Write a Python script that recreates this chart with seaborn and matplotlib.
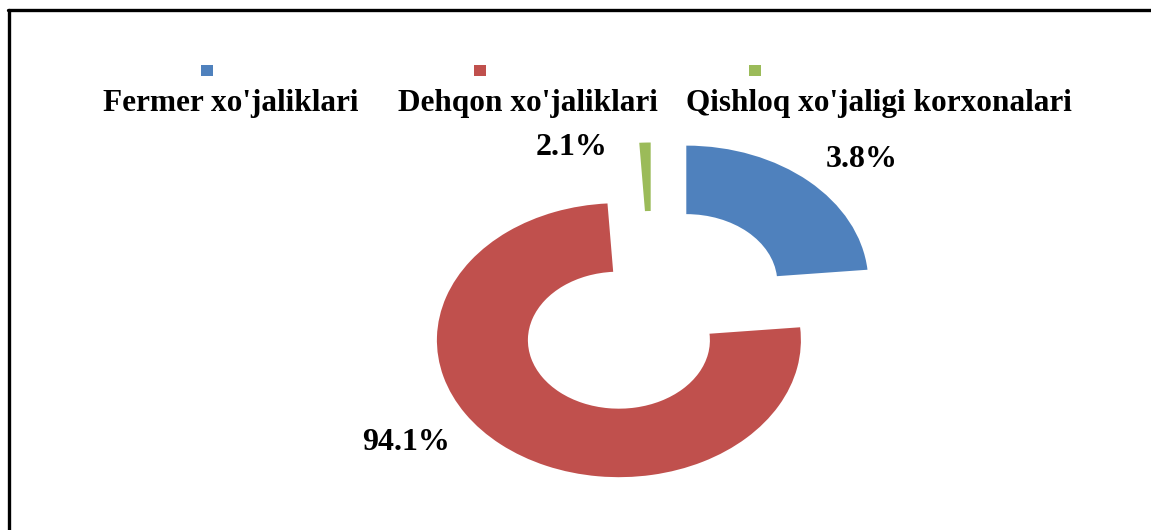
import matplotlib
matplotlib.use("Agg")
import matplotlib.pyplot as plt
import seaborn as sns
from matplotlib.lines import Line2D
from matplotlib.patches import Rectangle

# data (wedge shares as drawn in the picture, labels as printed)
categories = ["Fermer xo'jaliklari", "Dehqon xo'jaliklari", "Qishloq xo'jaligi korxonalari"]
drawn_shares = [23.5, 75.5, 1.0]
pct_labels = ["3.8%", "94.1%", "2.1%"]
colors = ["#4F81BD", "#C0504D", "#9BBB59"]

W, H = 1151, 530

sns.set_theme(style="white")
plt.rcParams['font.family'] = ['Liberation Serif', 'DejaVu Serif']
palette = sns.color_palette(colors)

fig = plt.figure(figsize=(W / 100, H / 100), dpi=100)
fig.patch.set_facecolor("white")
ax = fig.add_axes([0, 0, 1, 1])

ax.pie(
    drawn_shares, colors=palette, startangle=90, counterclock=False,
    explode=[0.28, 0.28, 0.23],
    wedgeprops=dict(width=0.5, linewidth=0),
)
# squashed look of the original: 182 px per unit horizontally, 137 vertically
cx, cy, sx, sy = 652, 311, 182, 137
ax.set_aspect("auto")
ax.set_xlim(-cx / sx, (W - cx) / sx)
ax.set_ylim(-(H - cy) / sy, cy / sy)
ax.axis("off")


def fx(x):
    return x / W


def fy(y):
    return 1 - y / H


# legend: small square keys above the names
key_x = [207, 480, 755]
name_x = [103, 398, 686]
for kx, nx, name, col in zip(key_x, name_x, categories, palette):
    fig.patches.append(Rectangle((fx(kx - 6), fy(76)), 12 / W, 11 / H,
                                 transform=fig.transFigure, color=col, lw=0))
    fig.text(fx(nx), fy(103), name, ha="left", va="center",
             fontsize=22.5, fontweight="bold", color="black")

# percentage labels
lab_pos = [(826, 160), (362, 442), (536, 148)]
for (lx, ly), txt in zip(lab_pos, pct_labels):
    fig.text(fx(lx), fy(ly), txt, ha="left", va="center",
             fontsize=23, fontweight="bold", color="black")

# frame lines (top and left)
fig.lines.append(Line2D([fx(8), 1], [fy(10), fy(10)], transform=fig.transFigure,
                        color="black", lw=2.4))
fig.lines.append(Line2D([fx(9), fx(9)], [fy(10), 0], transform=fig.transFigure,
                        color="black", lw=2.4))

fig.savefig("out.png", dpi=100, facecolor="white")
